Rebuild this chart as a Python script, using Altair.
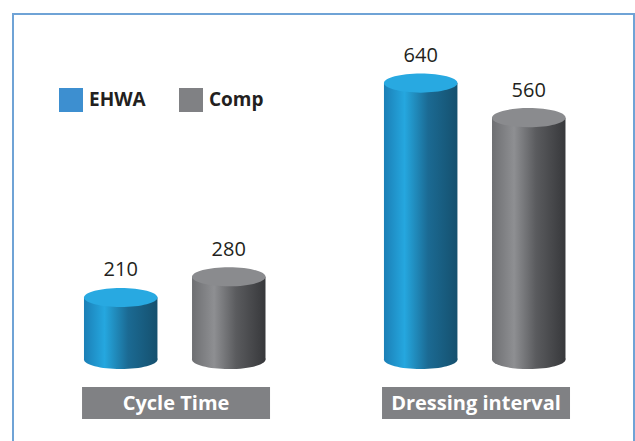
import altair as alt
import pandas as pd

groups = ["Cycle Time", "Dressing interval"]
series = ["EHWA", "Comp"]
cycle_values = [210, 280]
dressing_values = [640, 560]

legend_colors = ["#3d8fd0", "#808184"]
top_colors = {"EHWA": "#28a9e1", "Comp": "#8a8b8e"}

blue_grad = {"gradient": "linear", "x1": 0, "x2": 1, "y1": 0, "y2": 0,
             "stops": [{"offset": 0, "color": "#1b7fb6"},
                       {"offset": 0.28, "color": "#25a7df"},
                       {"offset": 0.6, "color": "#1b6a93"},
                       {"offset": 1, "color": "#15506e"}]}
gray_grad = {"gradient": "linear", "x1": 0, "x2": 1, "y1": 0, "y2": 0,
             "stops": [{"offset": 0, "color": "#6e6f72"},
                       {"offset": 0.3, "color": "#8e8f92"},
                       {"offset": 0.6, "color": "#5a5b5e"},
                       {"offset": 1, "color": "#37383b"}]}

ELLIPSE = "M-1,0A1,0.26,0,1,1,1,0A1,0.26,0,1,1,-1,0Z"
ESIZE = 5400

x_enc = alt.X("group:N", sort=groups, axis=None,
              scale=alt.Scale(domain=groups, paddingInner=0.3733,
                              paddingOuter=0.2217, align=0.519))
xo_enc = alt.XOffset("series:N", sort=series,
                     scale=alt.Scale(domain=series, paddingInner=0.32,
                                     paddingOuter=0.03, align=0.3))

def group_layer(gname, values, ymax, with_legend=False):
    df = pd.DataFrame({"group": [gname] * len(series), "series": series, "value": values})
    yscale = alt.Scale(domain=[0, ymax], range=[345.5, 0], nice=False, zero=True)
    base = alt.Chart(df)
    fill_grad = alt.condition(alt.datum.series == "EHWA",
                              alt.value(blue_grad), alt.value(gray_grad))
    fill_top = alt.condition(alt.datum.series == "EHWA",
                             alt.value(top_colors["EHWA"]), alt.value(top_colors["Comp"]))
    bottom = base.mark_point(shape=ELLIPSE, size=ESIZE, filled=True, strokeWidth=0, opacity=1).encode(
        x=x_enc, xOffset=xo_enc,
        y=alt.YDatum(0, scale=yscale, axis=None),
        fill=fill_grad)
    body = base.mark_bar().encode(
        x=x_enc, xOffset=xo_enc,
        y=alt.Y("value:Q", scale=yscale, axis=None),
        y2=alt.Y2Datum(0),
        fill=fill_grad)
    top = base.mark_point(shape=ELLIPSE, size=ESIZE, filled=True, strokeWidth=0, opacity=1).encode(
        x=x_enc, xOffset=xo_enc,
        y=alt.Y("value:Q", scale=yscale, axis=None),
        fill=fill_top)
    text = base.mark_text(dy=-21, baseline="alphabetic", font="Open Sans",
                          fontSize=20, color="#231f20").encode(
        x=x_enc, xOffset=xo_enc,
        y=alt.Y("value:Q", scale=yscale, axis=None),
        text="value:Q")
    layers = [bottom, body, top, text]
    if with_legend:
        leg = base.mark_square(opacity=0, size=10).encode(
            x=x_enc, xOffset=xo_enc,
            y=alt.Y("value:Q", scale=yscale, axis=None),
            color=alt.Color("series:N",
                            scale=alt.Scale(domain=series, range=legend_colors),
                            legend=alt.Legend(title=None, orient="none", direction="horizontal",
                                              legendX=46, legendY=74, padding=0,
                                              symbolType="square", symbolSize=576,
                                              symbolStrokeWidth=0, symbolOpacity=1,
                                              labelFont="Open Sans", labelFontSize=19,
                                              labelFontWeight="bold", labelColor="#231f20",
                                              labelOffset=6, columnPadding=33)))
        layers.append(leg)
    return alt.layer(*layers)

cycle = group_layer(groups[0], cycle_values, 1170, with_legend=True)
dressing = group_layer(groups[1], dressing_values, 800)

gdf = pd.DataFrame({"group": groups})
boxes = alt.Chart(gdf).mark_bar(color="#808184").encode(
    x=x_enc, y=alt.value(373), y2=alt.value(405))
box_text = alt.Chart(gdf).mark_text(color="white", font="Open Sans", fontSize=20,
                                    fontWeight="bold", baseline="middle").encode(
    x=x_enc, y=alt.value(389.5), text="group:N")

chart = alt.layer(cycle, dressing, boxes, box_text).resolve_scale(
    y="independent"
).properties(
    width=621, height=440,
    autosize=alt.AutoSizeParams(type="none"),
    padding={"left": 13, "top": 14, "right": 1, "bottom": 0},
    background="white"
).configure_view(stroke="#6fa3d6", strokeWidth=2)

chart.save("out.html", embed_options={"renderer": "svg", "actions": False})
